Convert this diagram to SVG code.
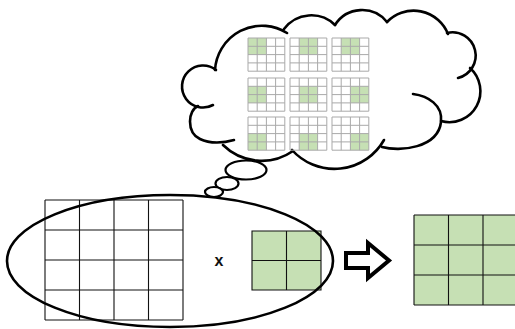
<svg xmlns="http://www.w3.org/2000/svg" xmlns:xlink="http://www.w3.org/1999/xlink" width="515" height="329" viewBox="0 0 515 329">
<style>
.bg{fill:#ffffff}
.grid{fill:none;stroke:#111;stroke-width:1.1}
.green{fill:#c6e0b4}
.sgl{fill:none;stroke:#a9a9a9;stroke-width:1}
.line{fill:none;stroke:#000;stroke-width:2.6;stroke-linecap:round}
.bub{fill:#fff;stroke:#000;stroke-width:2.2}
.lbl{font-family:"Liberation Sans",Arial,sans-serif;font-weight:bold;font-size:16px;fill:#111;text-anchor:middle}
.arrow{fill:#fff;stroke:#000;stroke-width:4;stroke-linejoin:miter}
</style>
<defs>
<g id="sgrid">
<path class="sgl" d="M0,0H36.8M0,8.3H36.8M0,16.6H36.8M0,24.9H36.8M0,33.2H36.8M0,0V33.2M9.2,0V33.2M18.4,0V33.2M27.6,0V33.2M36.8,0V33.2"/>
</g>
</defs>
<rect class="bg" x="0" y="0" width="515" height="329"/>

<g id="input-grid">
<path class="grid" d="M45,200H183M45,230H183M45,260H183M45,290H183M45,320H183M45,200V320M79.5,200V320M114,200V320M148.5,200V320M183,200V320"/>
</g>

<g id="kernel">
<rect class="green" x="252" y="231" width="69" height="59"/>
<path class="grid" d="M252,231H321V290H252ZM286.5,231V290M252,260.5H321"/>
</g>

<g id="times">
<text class="lbl" x="219" y="266">x</text>
</g>

<g id="selection-ellipse">
<ellipse class="line" cx="170" cy="261" rx="163" ry="66"/>
</g>

<g id="output-grid">
<rect class="green" x="414" y="215" width="103.5" height="90"/>
<path class="grid" d="M414,215H517.5M414,245H517.5M414,275H517.5M414,305H517.5M414,215V305M448.5,215V305M483,215V305"/>
</g>

<g id="thought-cloud">
<path class="line" d="M216,70A21,21 0 1 0 213,105"/>
<path class="line" d="M198,106C188,110 186,132 200,139C210,144 224,143 234,140"/>
<path class="line" d="M223,145A55,55 0 0 0 293,151"/>
<path class="line" d="M292,150A57,57 0 0 0 384,140"/>
<path class="line" d="M382,147C400,152 438,148 441,122C443,105 428,96 413,94"/>
<path class="line" d="M441,121A31,31 0 0 0 470,68"/>
<path class="line" d="M458,78A22,22 0 0 0 447,33"/>
<path class="line" d="M448,34A37,37 0 0 0 387,22"/>
<path class="line" d="M387,22A32,32 0 0 0 335,25"/>
<path class="line" d="M335,25A34,34 0 0 0 284,29"/>
<path class="line" d="M287,33A47,47 0 0 0 215,70"/>
</g>

<g id="thought-bubbles">
<ellipse class="bub" cx="246" cy="170" rx="20.5" ry="9.5"/>
<ellipse class="bub" cx="227" cy="183.5" rx="11.5" ry="6.5"/>
<ellipse class="bub" cx="214" cy="192" rx="9" ry="5"/>
</g>

<g id="window-grids">
<g id="w11" transform="translate(248,38)"><rect class="green" x="0" y="0" width="18.4" height="16.6"/><use xlink:href="#sgrid"/></g>
<g id="w12" transform="translate(290,38)"><rect class="green" x="9.2" y="0" width="18.4" height="16.6"/><use xlink:href="#sgrid"/></g>
<g id="w13" transform="translate(332,38)"><rect class="green" x="9.2" y="0" width="18.4" height="16.6"/><use xlink:href="#sgrid"/></g>
<g id="w21" transform="translate(248,78)"><rect class="green" x="0" y="8.3" width="18.4" height="16.6"/><use xlink:href="#sgrid"/></g>
<g id="w22" transform="translate(290,78)"><rect class="green" x="9.2" y="8.3" width="18.4" height="16.6"/><use xlink:href="#sgrid"/></g>
<g id="w23" transform="translate(332,78)"><rect class="green" x="18.4" y="8.3" width="18.4" height="16.6"/><use xlink:href="#sgrid"/></g>
<g id="w31" transform="translate(248,117)"><rect class="green" x="0" y="16.6" width="18.4" height="16.6"/><use xlink:href="#sgrid"/></g>
<g id="w32" transform="translate(290,117)"><rect class="green" x="9.2" y="16.6" width="18.4" height="16.6"/><use xlink:href="#sgrid"/></g>
<g id="w33" transform="translate(332,117)"><rect class="green" x="18.4" y="16.6" width="18.4" height="16.6"/><use xlink:href="#sgrid"/></g>
</g>

<g id="connectors">
<path class="arrow" d="M346,253H368V243L389,260.5L368,278V268H346Z"/>
</g>
</svg>
